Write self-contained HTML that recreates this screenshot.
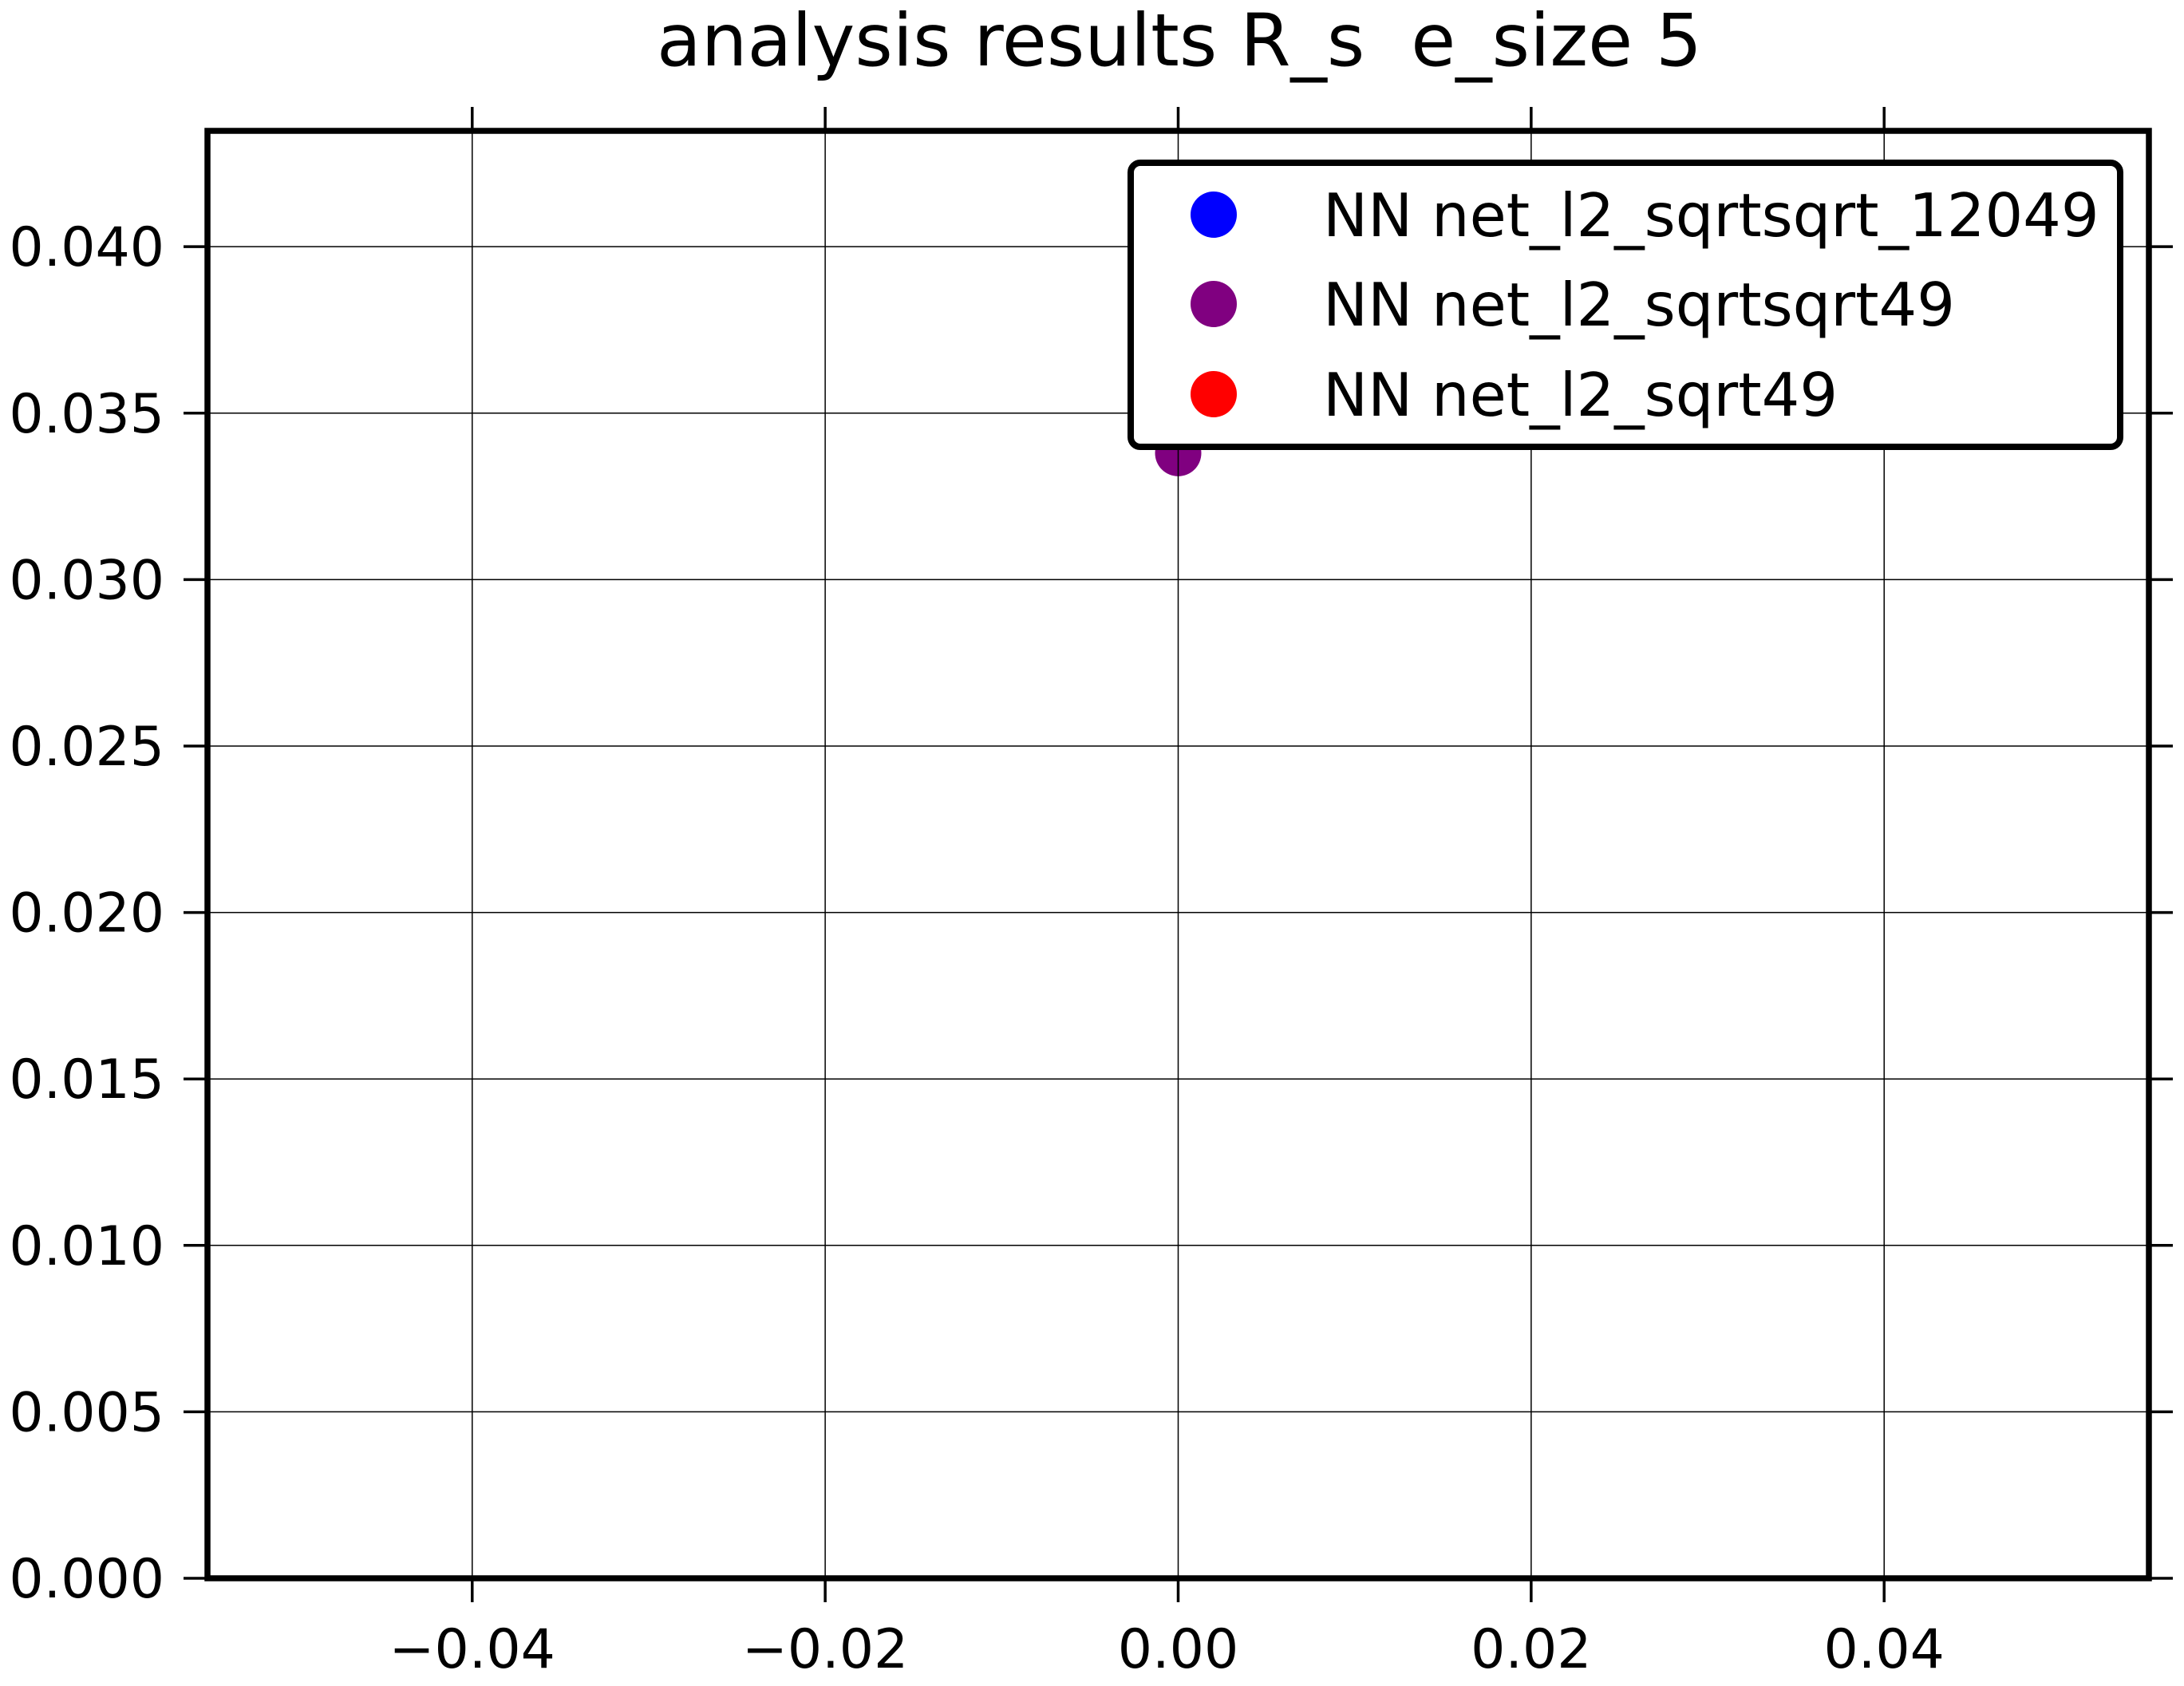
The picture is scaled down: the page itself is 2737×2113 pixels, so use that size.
<!DOCTYPE html>
<html><head><meta charset="utf-8"><style>
html,body{margin:0;padding:0;background:#fff;}
svg{display:block;font-family:"DejaVu Sans","Liberation Sans",sans-serif;}
</style></head><body>
<svg id="chart" width="2737" height="2113" viewBox="0 0 2737 2113" xmlns="http://www.w3.org/2000/svg">
<rect width="2737" height="2113" fill="#fff"/>
<text x="1478" y="82" font-size="91" text-anchor="middle" style="white-space:pre" xml:space="preserve">analysis results R_s  e_size 5</text>
<g id="grid"></g>
<g id="points"></g>
<g id="gridover"></g>
<rect x="260" y="164" width="2433" height="1814" fill="none" stroke="#000" stroke-width="7.5"/>
<g id="ticks"></g>
<g>
<rect x="1417" y="204" width="1240" height="356" rx="12" fill="#fff" stroke="#000" stroke-width="8"/>
<g id="legend-entries"></g>
</g>
</svg>
<script>
const xTicks = [-0.04, -0.02, 0.00, 0.02, 0.04];
const xTickLabels = ["\u22120.04", "\u22120.02", "0.00", "0.02", "0.04"];
const yTicks = [0, 0.005, 0.010, 0.015, 0.020, 0.025, 0.030, 0.035, 0.040];
const yTickLabels = ["0.000","0.005","0.010","0.015","0.020","0.025","0.030","0.035","0.040"];
const seriesNames = ["NN net_l2_sqrtsqrt_12049", "NN net_l2_sqrtsqrt49", "NN net_l2_sqrt49"];
const seriesColors = ["#0000ff", "#800080", "#ff0000"];
const blueX = [], blueY = [];
const redX = [], redY = [];
const purpleX = [0.0];
const purpleY = [0.0338];

const L=260,R=2693,T=164,B=1978;
const xMin=-0.055,xMax=0.055,yMin=0,yMax=0.04348;
const sx=v=>L+(v-xMin)/(xMax-xMin)*(R-L);
const sy=v=>B-(v-yMin)/(yMax-yMin)*(B-T);
const NS="http://www.w3.org/2000/svg";
function mk(tag,attrs,parent,txt){const e=document.createElementNS(NS,tag);for(const k in attrs)e.setAttribute(k,attrs[k]);if(txt!==undefined)e.textContent=txt;parent.appendChild(e);return e;}
const grid=document.getElementById('grid'),ticks=document.getElementById('ticks'),pts=document.getElementById('points'),gov=document.getElementById('gridover');
xTicks.forEach((v,i)=>{
  const x=sx(v);
  const g=mk('line',{x1:x,x2:x,y1:T,y2:B,stroke:'#000','stroke-width':1.5},gov);
  
  
  const t1=mk('line',{x1:x,x2:x,y1:B,y2:B+30,stroke:'#000','stroke-width':3.5},ticks);
  
  
  const t2=mk('line',{x1:x,x2:x,y1:T-30,y2:T,stroke:'#000','stroke-width':3.5},ticks);
  
  
  const lb=mk('text',{x:x,y:2090,'font-size':68,'text-anchor':'middle'},ticks,xTickLabels[i]);
  
  
});
yTicks.forEach((v,i)=>{
  const y=sy(v);
  const g=mk('line',{x1:L,x2:R,y1:y,y2:y,stroke:'#000','stroke-width':1.5},gov);
  
  
  const t1=mk('line',{x1:L-30,x2:L,y1:y,y2:y,stroke:'#000','stroke-width':3.5},ticks);
  
  
  const t2=mk('line',{x1:R,x2:R+30,y1:y,y2:y,stroke:'#000','stroke-width':3.5},ticks);
  
  
  const lb=mk('text',{x:206,y:y+24,'font-size':68,'text-anchor':'end'},ticks,yTickLabels[i]);
  
  
});
function drawSeries(xs,ys,color,name){
  xs.forEach((xv,i)=>{
    const c=mk('circle',{cx:sx(xv),cy:sy(ys[i]),r:29,fill:color},pts);
    
    
  });
}
drawSeries(blueX,blueY,seriesColors[0],'point-sqrtsqrt-12049');
drawSeries(redX,redY,seriesColors[2],'point-sqrt49');
drawSeries(purpleX,purpleY,seriesColors[1],'point-sqrtsqrt49');
const le=document.getElementById('legend-entries');
const rowY=[269,381,494];
seriesNames.forEach((n,i)=>{
  const m=mk('circle',{cx:1521,cy:rowY[i],r:29,fill:seriesColors[i]},le);
  
  
  const t=mk('text',{x:1658,y:rowY[i]+27,'font-size':75},le,n);
  
  
});
</script>
</body></html>
